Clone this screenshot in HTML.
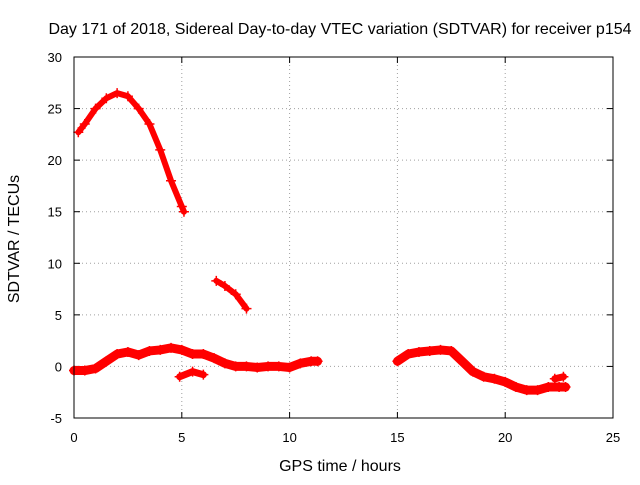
<!DOCTYPE html>
<html><head><meta charset="utf-8"><style>
body{margin:0;background:#fff;}
svg text{font-family:"Liberation Sans",sans-serif;font-size:13px;fill:#000;}
svg text.big{font-size:16px;}
</style></head><body>
<svg width="640" height="480" id="c">
<text class="big" x="340" y="34" text-anchor="middle">Day 171 of 2018, Sidereal Day-to-day VTEC variation (SDTVAR) for receiver p154</text>
<text class="big" x="340" y="471" text-anchor="middle">GPS time / hours</text>
<text class="big" transform="translate(19,239) rotate(-90)" text-anchor="middle">SDTVAR / TECUs</text>
<g id="grid"></g><g id="ticks"></g><g id="marks"></g>
<rect x="74" y="57" width="539" height="361" fill="none" stroke="#000"/>
</svg>
<script>
const xTicks=[0,5,10,15,20,25];
const yTicks=[-5,0,5,10,15,20,25,30];
const segA_x=[0.2,0.5,1,1.5,2,2.5,3,3.5,4,4.5,5,5.1];
const segA_y=[22.7,23.5,25,26,26.5,26.2,25,23.5,21,18,15.5,15];
const segB_x=[6.6,7,7.5,8];
const segB_y=[8.3,7.8,7,5.6];
const segC_x=[0,0.5,1,1.5,2,2.5,3,3.5,4,4.5,5,5.5,6,6.5,7,7.5,8,8.5,9,9.5,10,10.5,11,11.3];
const segC_y=[-0.4,-0.4,-0.2,0.5,1.2,1.4,1.1,1.5,1.6,1.8,1.6,1.2,1.2,0.8,0.3,0,0,-0.1,0,0,-0.1,0.3,0.5,0.5];
const segD_x=[4.9,5.5,6];
const segD_y=[-1,-0.5,-0.8];
const segE_x=[15,15.5,16,16.5,17,17.5,18,18.5,19,19.5,20,20.5,21,21.5,22,22.5,22.8];
const segE_y=[0.5,1.2,1.4,1.5,1.6,1.5,0.5,-0.5,-1,-1.2,-1.5,-2,-2.3,-2.3,-2,-2,-2];
const segF_x=[22.3,22.7];
const segF_y=[-1.2,-1];
const NS='http://www.w3.org/2000/svg';
const X=v=>74+(v-0)*(539/25);
const Y=v=>418-(v+5)*(361/35);
function mk(t,a,p){const e=document.createElementNS(NS,t);for(const k in a)e.setAttribute(k,a[k]);p.appendChild(e);return e;}
const g=document.getElementById('grid'),tk=document.getElementById('ticks'),m=document.getElementById('marks');
xTicks.forEach(v=>{
 if(v>0&&v<25){const l=mk('line',{x1:X(v),x2:X(v),y1:57,y2:418,stroke:'#a0a0a0','stroke-dasharray':'1,3'},g);
 
 }
 mk('line',{x1:X(v),x2:X(v),y1:418,y2:412,stroke:'#000'},tk);
 mk('line',{x1:X(v),x2:X(v),y1:57,y2:63,stroke:'#000'},tk);
 const t=mk('text',{x:X(v),y:442,'text-anchor':'middle'},tk);t.textContent=v;
 
 
});
yTicks.forEach(v=>{
 if(v>-5&&v<30){const l=mk('line',{x1:74,x2:613,y1:Y(v),y2:Y(v),stroke:'#a0a0a0','stroke-dasharray':'1,3'},g);
 
 }
 mk('line',{x1:74,x2:80,y1:Y(v),y2:Y(v),stroke:'#000'},tk);
 mk('line',{x1:607,x2:613,y1:Y(v),y2:Y(v),stroke:'#000'},tk);
 const t=mk('text',{x:62,y:Y(v)+5,'text-anchor':'end'},tk);t.textContent=v;
 
 
});
[[segA_x,segA_y,6],[segB_x,segB_y,6],[segC_x,segC_y,9],[segD_x,segD_y,7],[segE_x,segE_y,9],[segF_x,segF_y,7]].forEach(([xs,ys,w])=>{
 const pts=xs.map((x,i)=>X(x)+','+Y(ys[i])).join(' ');
 const pl=mk('polyline',{points:pts,fill:'none',stroke:'#f00','stroke-width':w,'stroke-linejoin':'round','stroke-linecap':'round'},m);
 
 
 xs.forEach((x,i)=>{
  const p=mk('path',{d:`M${X(x)-5},${Y(ys[i])}h10M${X(x)},${Y(ys[i])-5}v10`,stroke:'#f00','stroke-width':1.5},m);
  
  
 });
});
</script>
</body></html>
